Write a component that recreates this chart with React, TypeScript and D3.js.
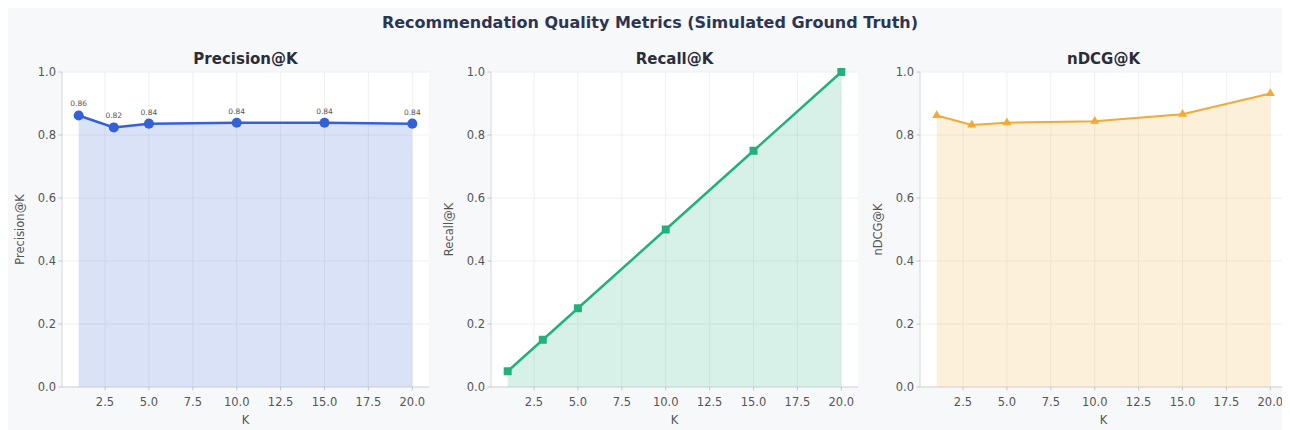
import React from 'react';
import * as d3 from 'd3';

// data
const kValues = [1, 3, 5, 10, 15, 20];
const precision = [0.862, 0.824, 0.836, 0.839, 0.839, 0.836];
const recall = [0.05, 0.15, 0.25, 0.5, 0.75, 1.0];
const ndcg = [0.862, 0.832, 0.839, 0.844, 0.866, 0.932];
const xTicks = [2.5, 5, 7.5, 10, 12.5, 15, 17.5, 20];
const yTicks = [0, 0.2, 0.4, 0.6, 0.8, 1.0];

const W = 1282;
const H = 422;
const FONT = 'DejaVu Sans, sans-serif';

type PanelProps = {
  left: number;
  title: string;
  values: number[];
  color: string;
  marker: 'circle' | 'square' | 'triangle';
  labels?: boolean;
};

const Panel = ({ left, title, values, color, marker, labels }: PanelProps) => {
  const width = 367;
  const top = 64;
  const bottom = 379;

  // matplotlib style 5% margin on x
  const span = 20 - 1;
  const x = d3.scaleLinear().domain([1 - span * 0.05, 20 + span * 0.05]).range([left, left + width]);
  const y = d3.scaleLinear().domain([0, 1]).range([bottom, top]);

  const pts = kValues.map((k, i) => ({ k, v: values[i] }));
  const line = d3.line<{ k: number; v: number }>().x(d => x(d.k)).y(d => y(d.v));
  const area = d3.area<{ k: number; v: number }>().x(d => x(d.k)).y0(y(0)).y1(d => y(d.v));

  const sym = marker === 'circle' ? d3.symbolCircle : marker === 'square' ? d3.symbolSquare : d3.symbolTriangle;
  const symSize = marker === 'circle' ? 80 : marker === 'square' ? 64 : 36;
  const symPath = d3.symbol().type(sym).size(symSize)() || '';
  const lw = marker === 'triangle' ? 2 : 2.5;

  return (
    <g>
      <rect x={left} y={top} width={width} height={bottom - top} fill="#ffffff" />
      {/* grid */}
      {xTicks.map(t => (
        <line key={'gx' + t} x1={x(t)} x2={x(t)} y1={top} y2={bottom} stroke="#ececec" strokeWidth={0.8} />
      ))}
      {yTicks.map(t => (
        <line key={'gy' + t} x1={left} x2={left + width} y1={y(t)} y2={y(t)} stroke="#ececec" strokeWidth={0.8} />
      ))}
      <path d={area(pts) || ''} fill={color} fillOpacity={0.18} />
      <path d={line(pts) || ''} fill="none" stroke={color} strokeWidth={lw} />
      {pts.map(p => (
        <path key={'m' + p.k} d={symPath} transform={`translate(${x(p.k)},${y(p.v)})`} fill={color} />
      ))}
      {labels &&
        pts.map(p => (
          <text key={'l' + p.k} x={x(p.k)} y={y(p.v) - 9} textAnchor="middle" fontSize={7.5} fill="#555" fontFamily={FONT}>
            {d3.format('.2f')(p.v)}
          </text>
        ))}
      {/* spines */}
      <line x1={left} x2={left} y1={top} y2={bottom} stroke="#cccccc" strokeWidth={0.8} />
      <line x1={left} x2={left + width} y1={bottom} y2={bottom} stroke="#cccccc" strokeWidth={0.8} />
      {/* ticks */}
      {yTicks.map(t => (
        <g key={'ty' + t}>
          <line x1={left - 3.5} x2={left} y1={y(t)} y2={y(t)} stroke="#bbbbbb" strokeWidth={0.8} />
          <text x={left - 6} y={y(t) + 4} textAnchor="end" fontSize={11.5} fill="#555" fontFamily={FONT}>
            {d3.format('.1f')(t)}
          </text>
        </g>
      ))}
      {xTicks.map(t => (
        <g key={'tx' + t}>
          <line x1={x(t)} x2={x(t)} y1={bottom} y2={bottom + 3.5} stroke="#bbbbbb" strokeWidth={0.8} />
          <text x={x(t)} y={bottom + 19} textAnchor="middle" fontSize={11.5} fill="#555" fontFamily={FONT}>
            {d3.format('.1f')(t)}
          </text>
        </g>
      ))}
      <text x={left + width / 2} y={bottom + 37} textAnchor="middle" fontSize={11.5} fill="#555" fontFamily={FONT}>
        K
      </text>
      <text
        transform={`translate(${left - 38},${(top + bottom) / 2}) rotate(-90)`}
        textAnchor="middle"
        fontSize={11.5}
        fill="#555"
        fontFamily={FONT}
      >
        {title}
      </text>
      <text x={left + width / 2} y={top - 8} textAnchor="middle" fontSize={15} fontWeight="bold" fill="#2b2d3a" fontFamily={FONT}>
        {title}
      </text>
    </g>
  );
};

export default function App() {
  return (
    <svg width={W} height={H} style={{ display: 'block' }}>
      <rect width={W} height={H} fill="#f7f8fa" />
      <text x={642} y={20} textAnchor="middle" fontSize={16} fontWeight="bold" fill="#2d3553" fontFamily={FONT}>
        Recommendation Quality Metrics (Simulated Ground Truth)
      </text>
      <Panel left={54} title="Precision@K" values={precision} color="#3461d6" marker="circle" labels />
      <Panel left={483} title="Recall@K" values={recall} color="#22b07d" marker="square" />
      <Panel left={912} title="nDCG@K" values={ndcg} color="#f0aa35" marker="triangle" />
    </svg>
  );
}
